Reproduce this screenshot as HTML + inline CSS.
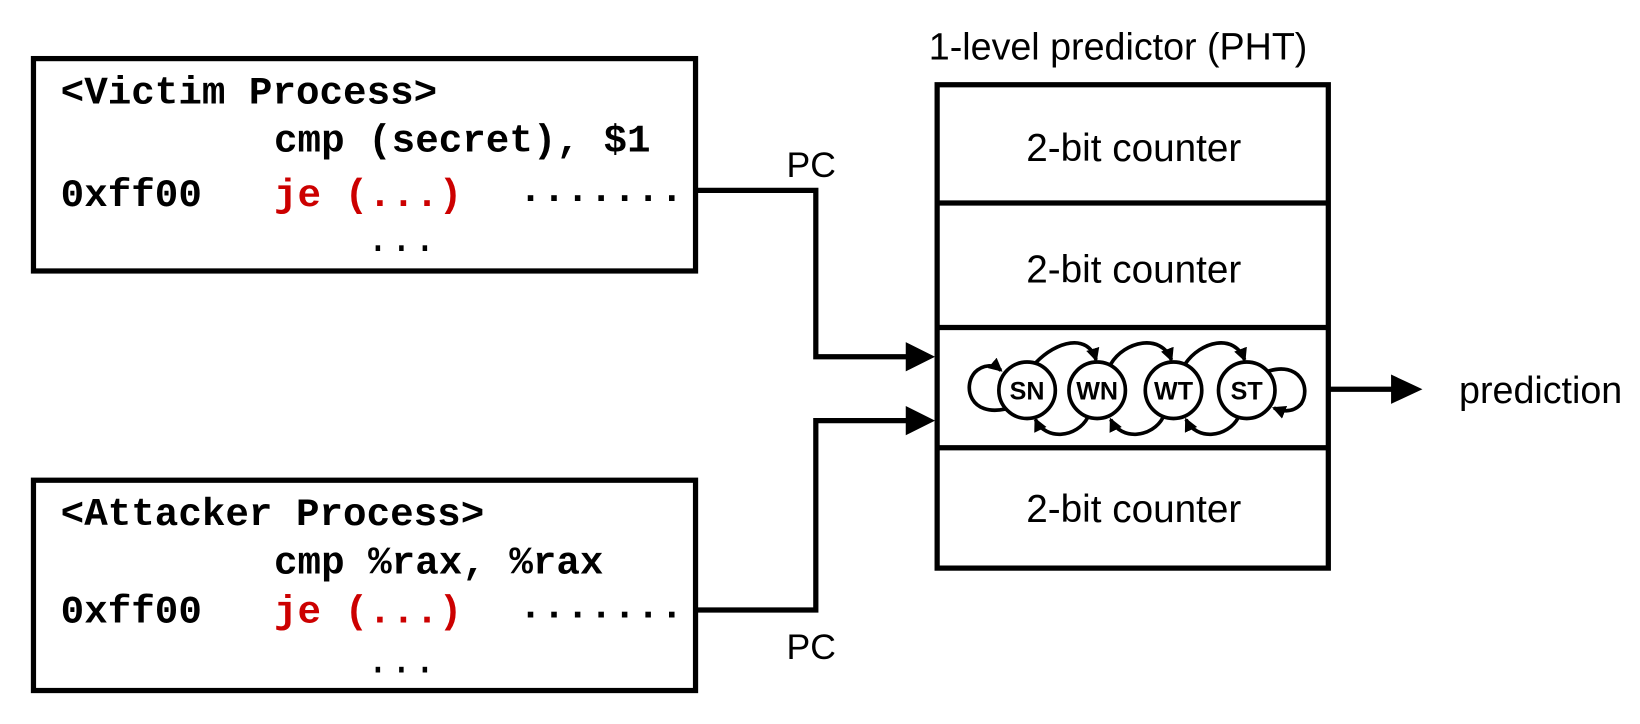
<!DOCTYPE html>
<html><head><meta charset="utf-8"><style>
html,body{margin:0;padding:0;background:#fff;}
svg{display:block;}
.m{font-family:"Liberation Mono",monospace;font-weight:bold;font-size:37.5px;}
.s{font-family:"Liberation Sans",sans-serif;}
</style></head><body>
<svg width="1640" height="724" viewBox="0 0 1568 692" preserveAspectRatio="none" xmlns="http://www.w3.org/2000/svg">
<defs>
<marker id="a" markerWidth="13" markerHeight="13" refX="11" refY="6.5" orient="auto" markerUnits="userSpaceOnUse"><path d="M0,0 L13,6.5 L0,13 Z" fill="#000"/></marker>
</defs>
<rect x="0" y="0" width="1568" height="692" fill="#fff"/>
<!-- victim -->
<rect x="32" y="56" width="633" height="203" fill="none" stroke="#000" stroke-width="5"/>
<text class="m" x="58" y="99">&lt;Victim Process&gt;</text>
<text class="m" x="262" y="145">cmp (secret), $1</text>
<text class="m" x="58" y="197">0xff00</text>
<text class="m" x="262" y="197" fill="#cc0000">je (...)</text>
<text class="m" x="496" y="192">.......</text>
<text class="m" x="350" y="240" style="font-weight:normal">...</text>
<!-- attacker -->
<rect x="32" y="459" width="633" height="201" fill="none" stroke="#000" stroke-width="5"/>
<text class="m" x="58" y="502">&lt;Attacker Process&gt;</text>
<text class="m" x="262" y="548">cmp %rax, %rax</text>
<text class="m" x="58" y="595">0xff00</text>
<text class="m" x="262" y="595" fill="#cc0000">je (...)</text>
<text class="m" x="496" y="590">.......</text>
<text class="m" x="350" y="643" style="font-weight:normal">...</text>
<!-- connectors -->
<path d="M665,182 H780 V341 H868" fill="none" stroke="#000" stroke-width="5"/>
<path d="M866,327 L894,341 L866,355 Z"/>
<path d="M665,583 H780 V402 H868" fill="none" stroke="#000" stroke-width="5"/>
<path d="M866,388 L894,402 L866,416 Z"/>
<text class="s" x="752" y="169" font-size="34">PC</text>
<text class="s" x="752" y="630" font-size="34">PC</text>
<!-- PHT -->
<text class="s" x="1069" y="57" font-size="36" text-anchor="middle">1-level predictor (PHT)</text>
<rect x="896" y="81" width="374" height="462" fill="none" stroke="#000" stroke-width="5"/>
<line x1="896" y1="194" x2="1270" y2="194" stroke="#000" stroke-width="5"/>
<line x1="896" y1="313" x2="1270" y2="313" stroke="#000" stroke-width="5"/>
<line x1="896" y1="428" x2="1270" y2="428" stroke="#000" stroke-width="5"/>
<text class="s" x="1084" y="154" font-size="37" text-anchor="middle">2-bit counter</text>
<text class="s" x="1084" y="270" font-size="37" text-anchor="middle">2-bit counter</text>
<text class="s" x="1084" y="499" font-size="37" text-anchor="middle">2-bit counter</text>
<!-- states -->
<g fill="none" stroke="#000" stroke-width="3.5">
<circle cx="982" cy="373" r="27"/>
<circle cx="1049" cy="373" r="27"/>
<circle cx="1122" cy="373" r="27"/>
<circle cx="1192" cy="373" r="27"/>
<path d="M990,347 C1010,326 1040,318 1048,344" marker-end="url(#a)"/>
<path d="M1062,348 C1075,326 1110,318 1120,344" marker-end="url(#a)"/>
<path d="M1133,348 C1148,326 1180,318 1190,344" marker-end="url(#a)"/>
<path d="M1040,399 C1030,418 1000,422 990,401" marker-end="url(#a)"/>
<path d="M1112,399 C1102,418 1072,422 1062,401" marker-end="url(#a)"/>
<path d="M1184,399 C1174,418 1144,422 1134,401" marker-end="url(#a)"/>
<path d="M961,391 C928,398 920,370 932,356 C940,348 950,348 957,354" marker-end="url(#a)"/>
<path d="M1212,355 C1242,345 1254,370 1244,386 C1237,394 1228,394 1218,390" marker-end="url(#a)"/>
</g>
<g class="s" font-size="24" font-weight="bold" text-anchor="middle">
<text x="982" y="382">SN</text><text x="1049" y="382">WN</text><text x="1122" y="382">WT</text><text x="1192" y="382">ST</text>
</g>
<!-- prediction -->
<line x1="1270" y1="372" x2="1336" y2="372" stroke="#000" stroke-width="5"/>
<path d="M1330,358 L1360,372 L1330,386 Z"/>
<text class="s" x="1395" y="385" font-size="36">prediction</text>
</svg>
</body></html>
